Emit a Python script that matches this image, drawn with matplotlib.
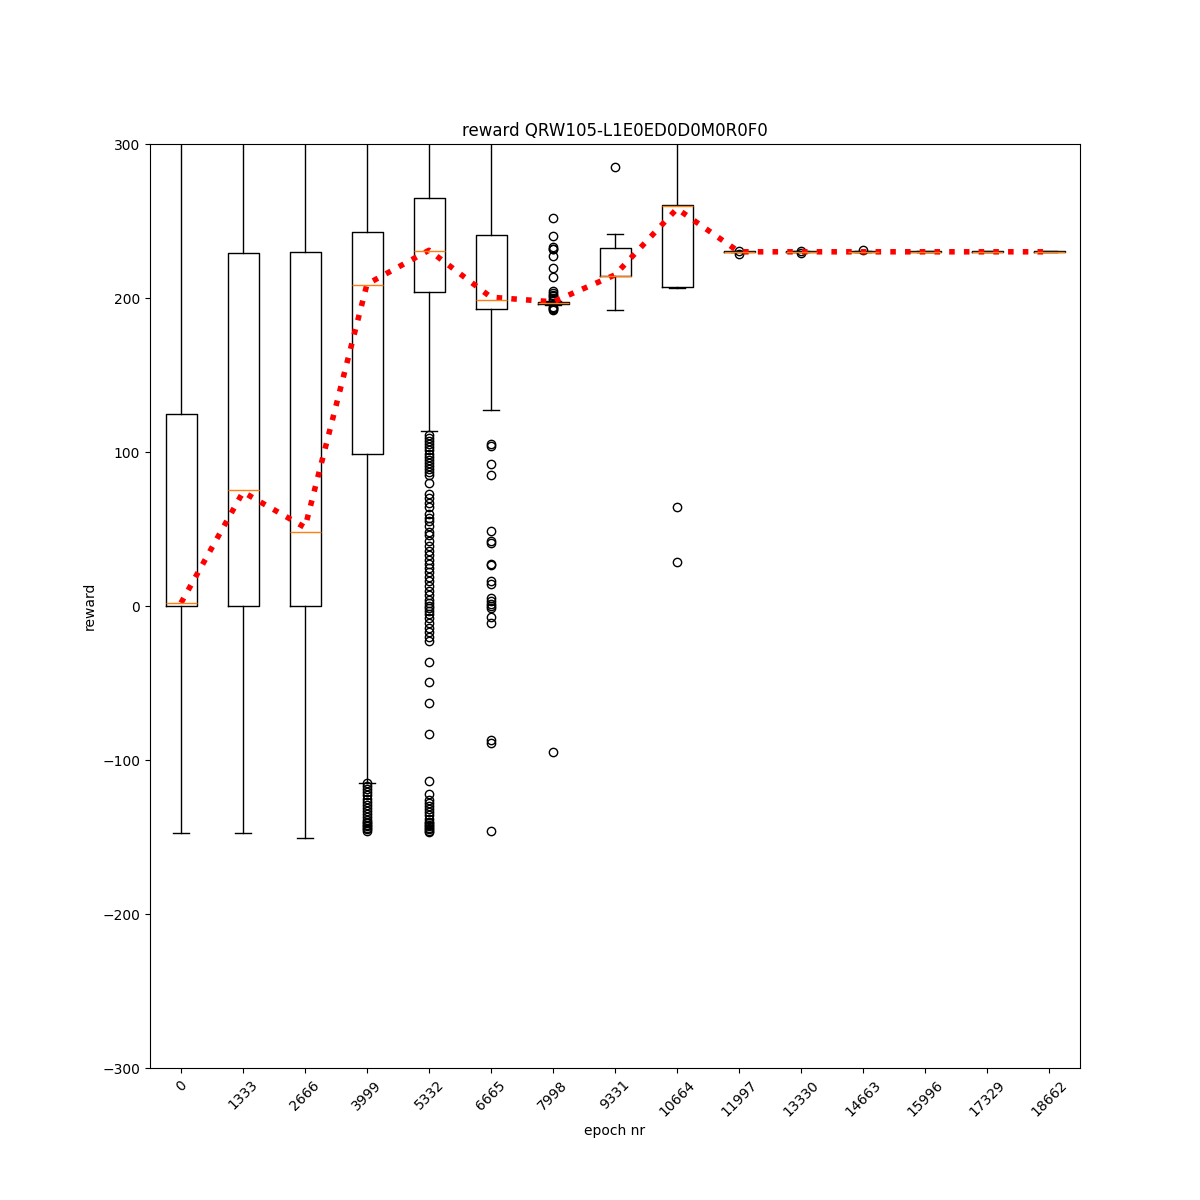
import numpy as np
import matplotlib
matplotlib.use("Agg")
from matplotlib import pyplot as plt

epochs = [0, 1333, 2666, 3999, 5332, 6665, 7998, 9331, 10664,
          11997, 13330, 14663, 15996, 17329, 18662]

# box statistics
q1 = [0, 0, 0, 98.7, 203.7, 192.7, 195.8, 214.3, 207.0,
      229.8, 229.8, 229.8, 229.8, 229.8, 229.8]
med = [1.7, 75.3, 47.8, 208.2, 230.5, 198.5, 196.5, 214.3, 260.0,
       230.0, 230.0, 230.0, 230.0, 230.0, 230.0]
q3 = [124.5, 229.0, 229.7, 242.6, 264.7, 240.9, 197.3, 232.3, 260.2,
      230.2, 230.2, 230.2, 230.2, 230.2, 230.2]
whislo = [-147.5, -147.5, -150.6, -114.7, 113.6, 127.3, 195.5, 192.0, 206.6,
          229.6, 229.6, 229.6, 229.6, 229.6, 229.6]
whishi = [330, 330, 330, 330, 330, 330, 197.8, 241.4, 330,
          230.4, 230.4, 230.4, 230.4, 230.4, 230.4]
means = [2.0, 74.0, 51.0, 209.0, 231.0, 200.5, 197.5, 215.0, 258.0,
         230.0, 230.0, 230.0, 230.0, 230.0, 230.0]

fliers = [
    [],
    [],
    [],
    [-115, -117, -119, -121, -123, -125, -127, -129, -131, -133, -135,
     -137, -139, -140, -141, -142, -143, -144, -145, -146],
    [111, 109, 107, 105, 103, 101, 99, 97, 95, 93, 91, 89, 87, 85, 80,
     73, 70, 67, 64, 60, 57, 55, 52, 48, 46, 42, 39, 36, 33, 30, 27, 25,
     22, 19, 16, 13, 10, 7, 4, 2, 0, -1, -3, -5, -8, -11, -14, -17, -20,
     -23, -36.6, -49.1, -63.2, -83.3, -113.6, -122.3, -126, -128, -130,
     -132, -134, -136, -138, -140, -141, -142, -143, -144, -145, -146, -147],
    [105, 104, 92, 85, 48.7, 42, 41, 27, 26.5, 16, 14, 5, 3, 1, 0, -1,
     -7, -11.3, -87, -89, -146],
    [251.8, 240.1, 233, 232, 231.5, 227.5, 219.5, 213.6, 204.8, 203,
     202, 201, 200, 199, 194.4, 193.5, 192.8, 192.2, -94.8],
    [285],
    [64.1, 28.4],
    [230.8, 228.3],
    [230.5, 229.4],
    [231.2],
    [],
    [],
    [],
]

stats = []
for i in range(len(epochs)):
    stats.append({"med": med[i], "q1": q1[i], "q3": q3[i],
                  "whislo": whislo[i], "whishi": whishi[i],
                  "fliers": np.array(fliers[i])})

fig, ax = plt.subplots(figsize=(12, 12), dpi=100)
pos = np.arange(1, len(epochs) + 1)
ax.bxp(stats, positions=pos, widths=0.5)
ax.plot(pos, means, "r:", linewidth=4)

ax.set_xticks(pos)
ax.set_xticklabels([str(e) for e in epochs], rotation=45)
ax.set_xlim(0.5, len(epochs) + 0.5)
ax.set_ylim(-300, 300)
ax.set_title("reward QRW105-L1E0ED0D0M0R0F0")
ax.set_xlabel("epoch nr")
ax.set_ylabel("reward")

plt.savefig("out.png")
